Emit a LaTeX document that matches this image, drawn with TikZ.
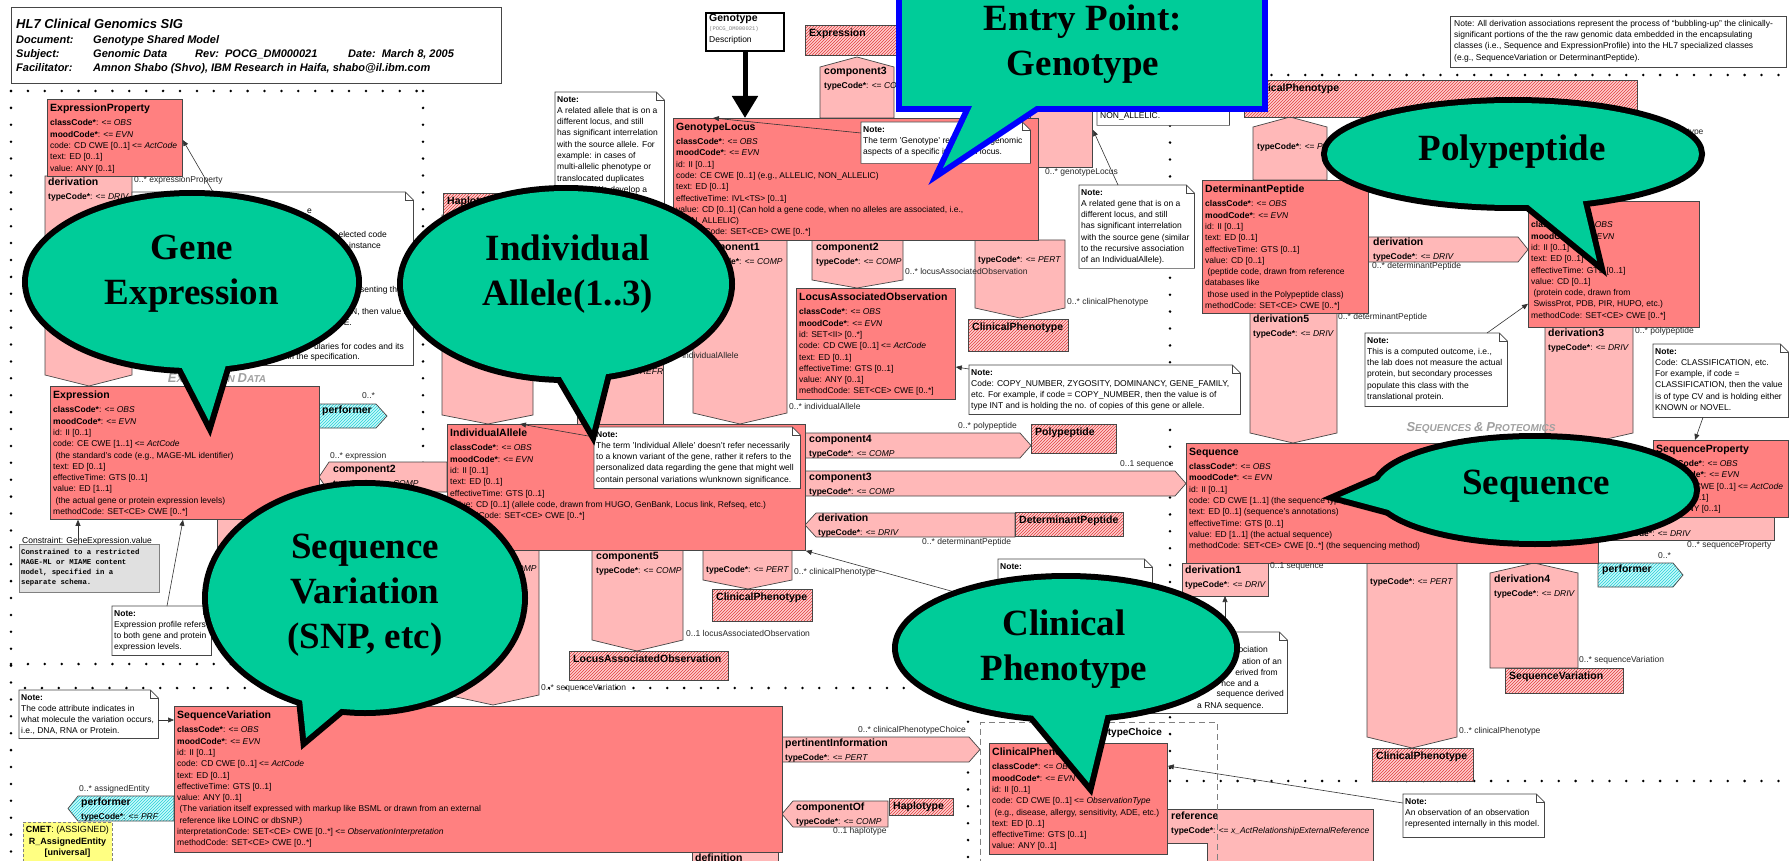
\documentclass[tikz,border=0pt]{standalone}
\usepackage{fontspec}
\setmainfont{Liberation Sans}
\newfontfamily\bubfont{Liberation Serif}
\newfontfamily\codefont{Liberation Mono}
\usetikzlibrary{patterns,arrows.meta}

\definecolor{clsred}{RGB}{255,128,128}
\definecolor{ascpink}{RGB}{255,184,184}
\definecolor{hatchbg}{RGB}{255,208,208}
\definecolor{hatchred}{RGB}{225,60,60}
\definecolor{cyanbg}{RGB}{200,250,250}
\definecolor{cyanline}{RGB}{40,205,215}
\definecolor{edgegray}{RGB}{70,70,70}
\definecolor{bubgreen}{RGB}{0,204,153}
\definecolor{sectgray}{RGB}{160,160,160}
\definecolor{cmetyellow}{RGB}{255,255,130}

\newcommand\fsm{\fontsize{8.5}{11.3}\selectfont}
\newcommand\ftl{\fontsize{10.5}{12}\selectfont\bfseries}
\newcommand\hdrf{\fontsize{11}{12}\selectfont\bfseries\itshape}
\newcommand\tcode[1]{\textbf{typeCode*}: <= \textit{#1}}
\newcommand\CapWord[2]{{\fontsize{13}{13}\selectfont #1}{\fontsize{10}{10}\selectfont #2}}

% class box: name, x, y, width, height, content
\newcommand\ClassBox[6]{%
  \node[clsbox, minimum width=#4pt, minimum height=#5pt] (#1) at (#2,#3) {};
  \node[txt] (#1-t) at ([xshift=3pt,yshift=-5pt]#1.north west) {#6};}
% hatched reference box: name, x, y, width, height, title
\newcommand\RefBox[6]{%
  \node[hatchbox, minimum width=#4pt, minimum height=#5pt] (#1) at (#2,#3) {};
  \node[txt, font=\ftl] (#1-t) at ([xshift=4pt,yshift=-3.5pt]#1.north west) {#6};}
% note with folded corner: name, x, y, width, height, text
\newcommand\NoteBox[6]{%
  \node[inner sep=0pt, minimum width=#4pt, minimum height=#5pt, anchor=north west] (#1) at (#2,#3) {};
  \draw[notebody] (#1.north west) -- ([xshift=-8pt]#1.north east) -- ([yshift=-8pt]#1.north east)
     -- (#1.south east) -- (#1.south west) -- cycle;
  \draw[notefold] ([xshift=-8pt]#1.north east) |- ([yshift=-8pt]#1.north east);
  \node[txt] (#1-t) at ([xshift=2pt,yshift=-4pt]#1.north west) {#6};}
% role name label: name, x, y, text
\newcommand\Role[4]{\node[txt, text=black!85] (#1) at (#2,#3) {#4};}
% right-aligned line of note text: name, right x, centre y, text
\newcommand\Tail[4]{\node[inner sep=0pt, anchor=east, font=\fsm] (#1) at (#2,#3) {#4};}

\tikzset{
  clsbox/.style={draw=edgegray, fill=clsred, line width=0.8pt, inner sep=0pt, anchor=north west},
  asc/.style={draw=edgegray, fill=ascpink, line width=0.7pt},
  hatchbox/.style={draw=edgegray, line width=0.7pt, preaction={fill=hatchbg}, pattern=north east lines,
     pattern color=hatchred, inner sep=0pt, anchor=north west},
  cyanasc/.style={draw=edgegray, line width=0.7pt, preaction={fill=cyanbg}, pattern=north east lines,
     pattern color=cyanline},
  txt/.style={inner sep=0pt, anchor=north west, align=left, font=\fsm},
  notebody/.style={draw=edgegray, fill=white, line width=0.7pt},
  notefold/.style={draw=edgegray, line width=0.7pt},
  dotrow/.style={draw=black, line width=2.8pt, line cap=round, dash pattern=on 0pt off 16.9pt},
  link/.style={draw=black!80, line width=0.6pt, -{Triangle[width=5pt,length=6pt]}},
  bubedge/.style={draw=black, line width=12pt, line join=miter, miter limit=10},
  entryedge/.style={draw=blue, line width=12pt, line join=miter, miter limit=10},
  bubtext/.style={inner sep=0pt, align=center, font=\bubfont\bfseries\fontsize{37}{45}\selectfont},
  sect/.style={inner sep=0pt, text=sectgray, font=\bfseries\itshape},
}

\begin{document}
\begin{tikzpicture}[x=1pt,y=-1pt]
\useasboundingbox (0,0) rectangle (1789,861);
\fill[white] (0,0) rectangle (1789,861);

% ---------- dotted region borders ----------
\draw[dotrow] (11,91) -- (423,91);
\draw[dotrow] (11,91) -- (11,861);
\draw[dotrow] (423,91) -- (423,664);
\draw[dotrow] (11,664) -- (423,664);
\draw[dotrow] (25,688) -- (968,688);
\draw[dotrow] (968,688) -- (968,861);
\draw[dotrow] (1170,75) -- (1789,75);
\draw[dotrow] (1170,75) -- (1170,781);
\draw[dotrow] (1170,781) -- (1789,781);

% ---------- association shapes ----------
\draw[asc] (45,176) -- (132,176) -- (132,375) -- (89,386) -- (45,375) -- cycle;
\node[txt] (a-der0) at (48,178) {{\ftl derivation}\\[2.7pt]\tcode{DRIV}};

\draw[cyanasc] (319,404) -- (376,404) -- (387,416) -- (376,428) -- (319,428) -- cycle;
\node[txt] (a-perf1) at (322,406) {\ftl performer};

\draw[asc] (329,462) -- (447,462) -- (447,492) -- (329,492) -- (319,477) -- cycle;
\node[txt] (a-comp2e) at (333,465) {{\ftl component2}\\[2.7pt]\tcode{COMP}};

\draw[asc] (217,519) -- (330,519) -- (330,620) -- (217,620) -- cycle;

\draw[asc] (442,215) -- (533,215) -- (533,415) -- (488,424) -- (442,415) -- cycle;
\draw[asc] (577,245) -- (663,245) -- (663,424) -- (577,424) -- cycle;
\node[txt] (a-refr) at (580,368) {\tcode{REFR}};
\draw[asc] (693,240) -- (787,240) -- (787,413) -- (740,424) -- (693,413) -- cycle;
\node[txt] (a-comp1) at (697,243) {{\ftl component1}\\[2.7pt]\tcode{COMP}};

\draw[asc] (812,240) -- (903,240) -- (903,280) -- (857,288) -- (812,280) -- cycle;
\node[txt] (a-comp2g) at (816,243) {{\ftl component2}\\[2.7pt]\tcode{COMP}};
\draw[asc] (975,240) -- (1065,240) -- (1065,308) -- (1020,318) -- (975,308) -- cycle;
\node[txt] (a-pertgl) at (978,256) {\tcode{PERT}};

\draw[asc] (820,67) -- (857,57) -- (894,67) -- (894,118) -- (820,118) -- cycle;
\node[txt] (a-comp3g) at (824,67) {{\ftl component3}\\[2.7pt]\tcode{COMP}};
\draw[asc] (1030,90) -- (1092,90) -- (1092,167) -- (1030,167) -- cycle;
\coordinate (locusrec) at (1093,130);

\draw[asc] (1253,127) -- (1290,117) -- (1327,127) -- (1327,180) -- (1253,180) -- cycle;
\node[txt] (a-pertcp) at (1257,143) {\tcode{PERT}};

\draw[asc] (1368,237) -- (1518,237) -- (1528,249.5) -- (1518,262) -- (1368,262) -- cycle;
\node[txt] (a-derpp) at (1373,238) {{\ftl derivation}\\[2.7pt]\tcode{DRIV}};
\draw[asc] (1250,313) -- (1337,313) -- (1337,433) -- (1293,443) -- (1250,433) -- cycle;
\node[txt] (a-der5) at (1253,315) {{\ftl derivation5}\\[2.7pt]\tcode{DRIV}};
\draw[asc] (1545,327) -- (1633,327) -- (1633,433) -- (1589,443) -- (1545,433) -- cycle;
\node[txt] (a-der3) at (1548,329) {{\ftl derivation3}\\[2.7pt]\tcode{DRIV}};
\draw[asc] (1598,517) -- (1774,517) -- (1774,540) -- (1598,540) -- cycle;
\node[txt] (a-dersp) at (1610,530) {\tcode{DRIV}};
\draw[cyanasc] (1598,563) -- (1673,563) -- (1683,575) -- (1673,587) -- (1598,587) -- cycle;
\node[txt] (a-perf2) at (1602,565) {\ftl performer};
\draw[asc] (1182,563) -- (1268,563) -- (1268,596) -- (1182,596) -- cycle;
\node[txt] (a-der1) at (1185,566) {{\ftl derivation1}\\[2.7pt]\tcode{DRIV}};
\coordinate (der1foot) at (1225,596);
\draw[asc] (1367,563) -- (1457,563) -- (1457,737) -- (1412,748) -- (1367,737) -- cycle;
\node[txt] (a-pertseq) at (1370,578) {\tcode{PERT}};
\draw[asc] (1490,573) -- (1534,563) -- (1578,573) -- (1578,668) -- (1490,668) -- cycle;
\node[txt] (a-der4) at (1494,575) {{\ftl derivation4}\\[2.7pt]\tcode{DRIV}};

\draw[asc] (805,433) -- (1020,433) -- (1031,445.5) -- (1020,458) -- (805,458) -- cycle;
\node[txt] (a-comp4) at (809,435) {{\ftl component4}\\[2.7pt]\tcode{COMP}};
\draw[asc] (805,471) -- (1175,471) -- (1186,483.5) -- (1175,496) -- (805,496) -- cycle;
\node[txt] (a-comp3s) at (809,473) {{\ftl component3}\\[2.7pt]\tcode{COMP}};
\draw[asc] (805,525) -- (816,513) -- (1015,513) -- (1015,537) -- (816,537) -- cycle;
\node[txt] (a-deria) at (818,514) {{\ftl derivation}\\[2.7pt]\tcode{DRIV}};

\draw[asc] (447,550) -- (539,550) -- (539,695) -- (493,705) -- (447,695) -- cycle;
\node[txt] (a-compsv) at (451,565) {\tcode{COMP}};
\draw[asc] (592,550) -- (683,550) -- (683,640) -- (637,651) -- (592,640) -- cycle;
\node[txt] (a-comp5) at (596,552) {{\ftl component5}\\[2.7pt]\tcode{COMP}};
\draw[asc] (703,550) -- (792,550) -- (792,580) -- (748,589) -- (703,580) -- cycle;
\node[txt] (a-pertia) at (706,566) {\tcode{PERT}};

\draw[asc] (782,737) -- (969,737) -- (980,749.5) -- (969,762) -- (782,762) -- cycle;
\node[txt] (a-pertinfo) at (785,738.5) {{\ftl pertinentInformation}\\[2.7pt]\tcode{PERT}};
\draw[asc] (782,814) -- (793,801) -- (888,801) -- (888,827) -- (793,827) -- cycle;
\node[txt] (a-compof) at (796,803) {{\ftl componentOf}\\[2.7pt]\tcode{COMP}};
\draw[asc] (692,852) -- (778,852) -- (778,875) -- (692,875) -- cycle;
\node[txt] (a-def) at (695,854) {\ftl definition};
\draw[cyanasc] (68,808.5) -- (78,796) -- (174,796) -- (174,821) -- (78,821) -- cycle;
\node[txt] (a-perf3) at (81,797.5) {{\ftl performer}\\[2.7pt]\tcode{PRF}};
\draw[asc] (1167,809) -- (1373,809) -- (1373,875) -- (1207,875) -- (1207,843) -- (1167,843) -- cycle;
\node[txt] (a-ref) at (1171,812) {{\ftl reference}\\[2.7pt]\tcode{x\_ActRelationshipExternalReference}};

% choice box
\node[draw=gray, line width=1pt, dash pattern=on 6pt off 4pt, minimum width=237pt, minimum height=160pt,
      anchor=north west, inner sep=0pt] (cpchoice) at (980,722) {};
\node[inner sep=0pt, anchor=east, font=\fontsize{10}{12}\selectfont\bfseries] (cpchoice-t) at (1162,733) {ClinicalPhenotypeChoice};

% ---------- header ----------
\node[draw=edgegray, fill=white, line width=0.8pt, minimum width=490pt, minimum height=76pt,
      anchor=north west, inner sep=0pt] (hdr) at (11,7) {};
\node[txt, font=\fontsize{13}{14}\selectfont\bfseries\itshape] (hdr-title) at (16,18.5) {HL7 Clinical Genomics SIG};
\node[txt, font=\hdrf] (hdr-k1) at (16,35.5) {Document:};
\node[txt, font=\hdrf] (hdr-v1) at (93,35.5) {Genotype Shared Model};
\node[txt, font=\hdrf] (hdr-k2) at (16,49.5) {Subject:};
\node[txt, font=\hdrf] (hdr-v2) at (93,49.5) {Genomic Data};
\node[txt, font=\hdrf] (hdr-v2b) at (195,49.5) {Rev:\ \ POCG\_DM000021};
\node[txt, font=\hdrf] (hdr-v2c) at (348,49.5) {Date:\ \ March 8, 2005};
\node[txt, font=\hdrf] (hdr-k3) at (16,63) {Facilitator:};
\node[txt, font=\hdrf] (hdr-v3) at (93,63) {Amnon Shabo (Shvo), IBM Research in Haifa, shabo@il.ibm.com};

% ---------- entry box ----------
\node[draw=black, fill=white, line width=2pt, minimum width=78pt, minimum height=38pt,
      anchor=north west, inner sep=0pt] (gtype) at (705,12) {};
\node[txt, font=\ftl] (gtype-name) at (709,13.5) {Genotype};
\node[txt, font=\codefont\fontsize{5.5}{6}\selectfont, text=gray] (gtype-id) at (709,26.5) {(POCG\_DM000021)};
\node[txt] (gtype-desc) at (709,36) {Description};

% ---------- hatched reference boxes ----------
\RefBox{rExpr}{805}{25}{100}{30}{Expression}
\RefBox{rHap1}{443}{193}{100}{22}{Haplotype}
\RefBox{rCP1}{1244}{80}{393}{37}{ClinicalPhenotype}
\RefBox{rPoly}{1031}{424}{85}{29}{Polypeptide}
\RefBox{rDP}{1015}{512}{108}{24}{DeterminantPeptide}
\RefBox{rCP2}{968}{319}{100}{32}{ClinicalPhenotype}
\RefBox{rCP3}{712}{589}{100}{32}{ClinicalPhenotype}
\RefBox{rLAO}{569}{651}{159}{29}{LocusAssociatedObservation}
\RefBox{rCP4}{1372}{748}{101}{33}{ClinicalPhenotype}
\RefBox{rSV}{1505}{668}{118}{25}{SequenceVariation}
\RefBox{rHap2}{889}{798}{64}{17}{Haplotype}

% ---------- class boxes ----------
\ClassBox{exprop}{47}{99}{135}{77}{{\ftl ExpressionProperty}\\[2.7pt]
\textbf{classCode*}: <= \textit{OBS}\\
\textbf{moodCode*}: <= \textit{EVN}\\
code: CD CWE [0..1] <= \textit{ActCode}\\
text: ED [0..1]\\
value: ANY [0..1]}

\ClassBox{expr}{50}{386}{269}{133}{{\ftl Expression}\\[2.7pt]
\textbf{classCode*}: <= \textit{OBS}\\
\textbf{moodCode*}: <= \textit{EVN}\\
id: II [0..1]\\
code: CE CWE [1..1] <= \textit{ActCode}\\
\ (the standard's code (e.g., MAGE-ML identifier)\\
text: ED [0..1]\\
effectiveTime: GTS [0..1]\\
value: ED [1..1]\\
\ (the actual gene or protein expression levels)\\
methodCode: SET<CE> CWE [0..*]}

\ClassBox{gl}{673}{118}{365}{122}{{\ftl GenotypeLocus}\\[2.7pt]
\textbf{classCode*}: <= \textit{OBS}\\
\textbf{moodCode*}: <= \textit{EVN}\\
id: II [0..1]\\
code: CE CWE [0..1] (e.g., ALLELIC, NON\_ALLELIC)\\
text: ED [0..1]\\
effectiveTime: IVL<TS> [0..1]\\
value: CD [0..1] (Can hold a gene code, when no alleles are associated, i.e.,\\
\ NON\_ALLELIC)\\
methodCode: SET<CE> CWE [0..*]}

\ClassBox{lao}{796}{288}{159}{111}{{\ftl LocusAssociatedObservation}\\[2.7pt]
\textbf{classCode*}: <= \textit{OBS}\\
\textbf{moodCode*}: <= \textit{EVN}\\
id: SET<II> [0..*]\\
code: CD CWE [0..1] <= \textit{ActCode}\\
text: ED [0..1]\\
effectiveTime: GTS [0..1]\\
value: ANY [0..1]\\
methodCode: SET<CE> CWE [0..*]}

\ClassBox{ia}{447}{424}{358}{126}{{\ftl IndividualAllele}\\[2.7pt]
\textbf{classCode*}: <= \textit{OBS}\\
\textbf{moodCode*}: <= \textit{EVN}\\
id: II [0..1]\\
text: ED [0..1]\\
effectiveTime: GTS [0..1]\\
value: CD [0..1] (allele code, drawn from HUGO, GenBank, Locus link, Refseq, etc.)\\
methodCode: SET<CE> CWE [0..*]}

\ClassBox{dp}{1202}{180}{166}{133}{{\ftl DeterminantPeptide}\\[2.7pt]
\textbf{classCode*}: <= \textit{OBS}\\
\textbf{moodCode*}: <= \textit{EVN}\\
id: II [0..1]\\
text: ED [0..1]\\
effectiveTime: GTS [0..1]\\
value: CD [0..1]\\
\ (peptide code, drawn from reference\\
databases like\\
\ those used in the Polypeptide class)\\
methodCode: SET<CE> CWE [0..*]}

\ClassBox{pp}{1528}{201}{171}{126}{{\ftl Polypeptide}\\[2.7pt]
\textbf{classCode*}: <= \textit{OBS}\\
\textbf{moodCode*}: <= \textit{EVN}\\
id: II [0..1]\\
text: ED [0..1]\\
effectiveTime: GTS [0..1]\\
value: CD [0..1]\\
\ (protein code, drawn from\\
\ SwissProt, PDB, PIR, HUPO, etc.)\\
methodCode: SET<CE> CWE [0..*]}

\ClassBox{seq}{1186}{443}{412}{120}{{\ftl Sequence}\\[2.7pt]
\textbf{classCode*}: <= \textit{OBS}\\
\textbf{moodCode*}: <= \textit{EVN}\\
id: II [0..1]\\
code: CD CWE [1..1] (the sequence type)\\
text: ED [0..1] (sequence's annotations)\\
effectiveTime: GTS [0..1]\\
value: ED [1..1] (the actual sequence)\\
methodCode: SET<CE> CWE [0..*] (the sequencing method)}

\ClassBox{sp}{1653}{440}{135}{77}{{\ftl SequenceProperty}\\[2.7pt]
\textbf{classCode*}: <= \textit{OBS}\\
\textbf{moodCode*}: <= \textit{EVN}\\
code: CD CWE [0..1] <= \textit{ActCode}\\
text: ED [0..1]\\
value: ANY [0..1]}

\ClassBox{sv}{174}{706}{608}{146}{{\ftl SequenceVariation}\\[2.7pt]
\textbf{classCode*}: <= \textit{OBS}\\
\textbf{moodCode*}: <= \textit{EVN}\\
id: II [0..1]\\
code: CD CWE [0..1] <= \textit{ActCode}\\
text: ED [0..1]\\
effectiveTime: GTS [0..1]\\
value: ANY [0..1]\\
\ (The variation itself expressed with markup like BSML or drawn from an external\\
\ reference like LOINC or dbSNP.)\\
interpretationCode: SET<CE> CWE [0..*] <= \textit{ObservationInterpretation}\\
methodCode: SET<CE> CWE [0..*]}

\ClassBox{cp}{989}{743}{178}{111}{{\ftl ClinicalPhenotype}\\[2.7pt]
\textbf{classCode*}: <= \textit{OBS}\\
\textbf{moodCode*}: <= \textit{EVN}\\
id: II [0..1]\\
code: CD CWE [0..1] <= \textit{ObservationType}\\
\ (e.g., disease, allergy, sensitivity, ADE, etc.)\\
text: ED [0..1]\\
effectiveTime: GTS [0..1]\\
value: ANY [0..1]}

% ---------- notes ----------
% expression note: only the right-hand ends of its lines show past the callout
\NoteBox{nexp}{132}{192}{281}{173}{}
\Tail{nexp-1}{312}{211}{e}
\Tail{nexp-2}{387}{234}{elected code}
\Tail{nexp-3}{381}{245}{instance}
\Tail{nexp-4}{402}{290}{senting the}
\Tail{nexp-5}{410}{312}{N, then value is}
\Tail{nexp-6}{352}{323}{E.}
\Tail{nexp-7}{404}{346}{ularies for codes and its}
\Tail{nexp-8}{360}{357}{in the specification.}

\NoteBox{nallele}{555}{92}{109}{150}{\textbf{Note:}\\
A related allele that is on a\\
different locus, and still\\
has significant interrelation\\
with the source allele. For\\
example: in cases of\\
multi-allelic phenotype or\\
translocated duplicates\\
of genes. We develop a}

\NoteBox{ngl}{861}{122}{169}{41}{\textbf{Note:}\\
The term 'Genotype' refers to the genomic\\
aspects of a specific individual locus.}

\NoteBox{nnon}{1097}{40}{132}{85}{}
\node[txt] (nnon-last) at (1100,112) {NON\_ALLELIC.};

\NoteBox{ngene}{1079}{185}{115}{83}{\textbf{Note:}\\
A related gene that is on a\\
different locus, and still\\
has significant interrelation\\
with the source gene (similar\\
to the recursive association\\
of an IndividualAllele).}

\NoteBox{ncopy}{969}{365}{271}{49}{\textbf{Note:}\\
Code: COPY\_NUMBER, ZYGOSITY, DOMINANCY, GENE\_FAMILY,\\
etc. For example, if code = COPY\_NUMBER, then the value is of\\
type INT and is holding the no. of copies of this gene or allele.}

\NoteBox{nia}{594}{427}{206}{61}{\textbf{Note:}\\
The term 'Individual Allele' doesn't refer necessarily\\
to a known variant of the gene, rather it refers to the\\
personalized data regarding the gene that might well\\
contain personal variations w/unknown significance.}

\NoteBox{nprof}{112}{606}{99}{49}{\textbf{Note:}\\
Expression profile refers\\
to both gene and protein\\
expression levels.}

\NoteBox{nlink}{998}{559}{154}{66}{\textbf{Note:}}

% derivation note: only the right-hand ends of its lines show past the callout
\NoteBox{nder}{1135}{632}{152}{81}{}
\Tail{nder-1}{1268}{649}{ociation}
\Tail{nder-2}{1282}{661}{ation of an}
\Tail{nder-3}{1278}{672}{erived from}
\Tail{nder-4}{1259}{683}{nce and a}
\Tail{nder-5}{1284}{694}{sequence derived}
\Tail{nder-6}{1264}{706}{a RNA sequence.}

\NoteBox{ncomp}{1365}{333}{142}{73}{\textbf{Note:}\\
This is a computed outcome, i.e.,\\
the lab does not measure the actual\\
protein, but secondary processes\\
populate this class with the\\
translational protein.}

\NoteBox{nclass}{1653}{344}{135}{73}{\textbf{Note:}\\
Code: CLASSIFICATION, etc.\\
For example, if code =\\
CLASSIFICATION, then the value\\
is of type CV and is holding either\\
KNOWN or NOVEL.}

\NoteBox{ncode}{19}{690}{139}{48}{\textbf{Note:}\\
The code attribute indicates in\\
what molecule the variation occurs,\\
i.e., DNA, RNA or Protein.}

\NoteBox{nobs}{1403}{794}{141}{43}{\textbf{Note:}\\
An observation of an observation\\
represented internally in this model.}

\node[draw=edgegray, fill=white, line width=0.7pt, minimum width=336pt, minimum height=51pt,
      anchor=north west, inner sep=0pt] (nall) at (1450,16) {};
\node[txt] (nall-t) at (1454,20) {Note: All derivation associations represent the process of “bubbling-up” the clinically-\\
significant portions of the the raw genomic data embedded in the encapsulating\\
classes (i.e., Sequence and ExpressionProfile) into the HL7 specialized classes\\
(e.g., SequenceVariation or DeterminantPeptide).};

% constraint box
\node[txt] (constr-l) at (22,537) {Constraint: GeneExpression.value};
\node[draw=gray, fill=black!12, line width=0.6pt, minimum width=140pt, minimum height=48pt,
      anchor=north west, inner sep=0pt] (constr) at (19,544) {};
\node[txt, font=\codefont\bfseries\fontsize{7.3}{10}\selectfont] (constr-t) at (21,549)
  {Constrained to a restricted\\MAGE-ML or MIAME content\\model, specified in a\\separate schema.};

% CMET
\node[draw=gray, dash pattern=on 3pt off 2pt, fill=cmetyellow, line width=0.7pt, minimum width=89pt,
      minimum height=50pt, anchor=north west, inner sep=0pt] (cmet) at (23,822) {};
\node[inner sep=0pt, anchor=north, align=center, font=\fontsize{9}{11.5}\selectfont] (cmet-t) at (67.5,826)
  {\textbf{CMET}: (ASSIGNED)\\\textbf{R\_AssignedEntity}\\\textbf{[universal]}};

% ---------- section titles ----------
\node[sect] (sectExpr) at (217,378) {\CapWord{E}{XPRESSION} \CapWord{D}{ATA}};
\node[sect] (sectSeq) at (1481,428) {\CapWord{S}{EQUENCES} \CapWord{\&}{} \CapWord{P}{ROTEOMICS}};

% ---------- role labels ----------
\Role{r1}{134}{176}{0..* expressionProperty}
\Role{r2}{362}{392}{0..*}
\Role{r3}{330}{452}{0..* expression}
\Role{r4}{667}{352}{0..* individualAllele}
\Role{r5}{789}{403}{0..* individualAllele}
\Role{r6}{905}{268}{0..* locusAssociatedObservation}
\Role{r7}{1067}{298}{0..* clinicalPhenotype}
\Role{r8}{1045}{168}{0..* genotypeLocus}
\Role{r9}{1622}{128}{0..* clinicalPhenotype}
\Role{r10}{1372}{262}{0..* determinantPeptide}
\Role{r11}{1338}{313}{0..* determinantPeptide}
\Role{r12}{1635}{327}{0..* polypeptide}
\Role{r13}{958}{422}{0..* polypeptide}
\Role{r14}{1120}{460}{0..1 sequence}
\Role{r15}{922}{538}{0..* determinantPeptide}
\Role{r16}{541}{684}{0..* sequenceVariation}
\Role{r17}{686}{630}{0..1 locusAssociatedObservation}
\Role{r18}{794}{568}{0..* clinicalPhenotype}
\Role{r19}{858}{726}{0..* clinicalPhenotypeChoice}
\Role{r20}{833}{827}{0..1 haplotype}
\Role{r21}{79}{785}{0..* assignedEntity}
\Role{r22}{1687}{541}{0..* sequenceProperty}
\Role{r23}{1658}{552}{0..*}
\Role{r24}{1270}{562}{0..1 sequence}
\Role{r25}{1459}{727}{0..* clinicalPhenotype}
\Role{r26}{1579}{656}{0..* sequenceVariation}

% ---------- connectors ----------
\draw[draw=black, line width=5pt, -{Triangle[width=25pt,length=22pt]}] (gtype.south) -- (gl.north -| gtype.south);
\draw[link] ([xshift=81pt]nexp.north west) -- ([yshift=-41pt]exprop.north east);
\draw[link] ([yshift=-11pt]ngl.north west) -- ([xshift=40pt]gl.north west);
\draw[link] ([xshift=39pt]ngene.north west) -- (locusrec);
\draw[link] ([yshift=-4pt]ncopy.north west) -- ([yshift=-79pt]lao.north east);
\draw[link] ([yshift=-10pt]nia.north west) -- ([xshift=73pt]ia.north west);
\draw[link] ([xshift=59pt]constr.north west) -- ([xshift=28pt]expr.south west);
\draw[link] ([xshift=55pt]nprof.north west) -- ([xshift=133pt]expr.south west);
\draw[link] ([yshift=-30pt]ncode.north east) -- ([yshift=-14pt]sv.north west);
\draw[link] ([xshift=122pt]ncomp.north west) -- ([yshift=24pt]pp.south west);
\draw[link] ([xshift=50pt]nclass.south west) -- ([xshift=42pt]sp.north west);
\draw[link] ([xshift=90pt]nder.north west) -- (der1foot);
\draw[link] ([yshift=-9pt]nobs.north west) -- ([yshift=-23pt]cp.north east);
\draw[link] ([yshift=-45pt]nlink.north west) -- (ia.south east);

% ---------- callouts ----------
% Gene Expression
\draw[bubedge] (192,282) ellipse [x radius=164pt, y radius=86pt];
\draw[bubedge] (170,345) -- (209,421) -- (232,345);
\fill[bubgreen] (192,282) ellipse [x radius=164pt, y radius=86pt];
\fill[bubgreen] (170,345) -- (209,421) -- (232,345) -- cycle;
\node[bubtext] (bubGene) at (192,274) {Gene\\Expression};

% Individual Allele
\draw[bubedge] (566,284) ellipse [x radius=163pt, y radius=93pt];
\draw[bubedge] (545,350) -- (592,430) -- (612,350);
\fill[bubgreen] (566,284) ellipse [x radius=163pt, y radius=93pt];
\fill[bubgreen] (545,350) -- (592,430) -- (612,350) -- cycle;
\node[bubtext] (bubAllele) at (568,274) {Individual\\Allele(1..3)};

% Sequence Variation
\draw[bubedge] (365,598) ellipse [x radius=157pt, y radius=112pt];
\draw[bubedge] (299,670) -- (306,738) -- (368,686);
\fill[bubgreen] (365,598) ellipse [x radius=157pt, y radius=112pt];
\fill[bubgreen] (299,670) -- (306,738) -- (368,686) -- cycle;
\node[bubtext] (bubSNP) at (365,595) {Sequence\\Variation\\(SNP, etc)};

% Clinical Phenotype
\draw[bubedge] (1066,648) ellipse [x radius=168pt, y radius=69pt];
\draw[bubedge] (1024,705) -- (1089,783) -- (1108,705);
\fill[bubgreen] (1066,648) ellipse [x radius=168pt, y radius=69pt];
\fill[bubgreen] (1024,705) -- (1089,783) -- (1108,705) -- cycle;
\node[bubtext] (bubClin) at (1064,649) {Clinical\\Phenotype};

% Polypeptide
\draw[bubedge] (1513,154) ellipse [x radius=186pt, y radius=51pt];
\draw[bubedge] (1510,190) -- (1597,261) -- (1580,190);
\fill[bubgreen] (1513,154) ellipse [x radius=186pt, y radius=51pt];
\fill[bubgreen] (1510,190) -- (1597,261) -- (1580,190) -- cycle;
\node[bubtext] (bubPoly) at (1512,151.5) {Polypeptide};

% Sequence
\draw[bubedge] (1535,490) ellipse [x radius=159pt, y radius=51pt];
\draw[bubedge] (1400,471) -- (1340,497) -- (1400,513);
\fill[bubgreen] (1535,490) ellipse [x radius=159pt, y radius=51pt];
\fill[bubgreen] (1400,471) -- (1340,497) -- (1400,513) -- cycle;
\node[bubtext] (bubSeq) at (1536,486.5) {Sequence};

% Entry point
\draw[entryedge] (902,-20) rectangle (1262,106);
\draw[entryedge] (975,100) -- (943,168) -- (1045,100);
\fill[bubgreen] (902,-20) rectangle (1262,106);
\fill[bubgreen] (975,100) -- (943,168) -- (1045,100) -- cycle;
\node[bubtext] (bubEntry) at (1083,44) {Entry Point:\\Genotype};

\end{tikzpicture}
\end{document}
